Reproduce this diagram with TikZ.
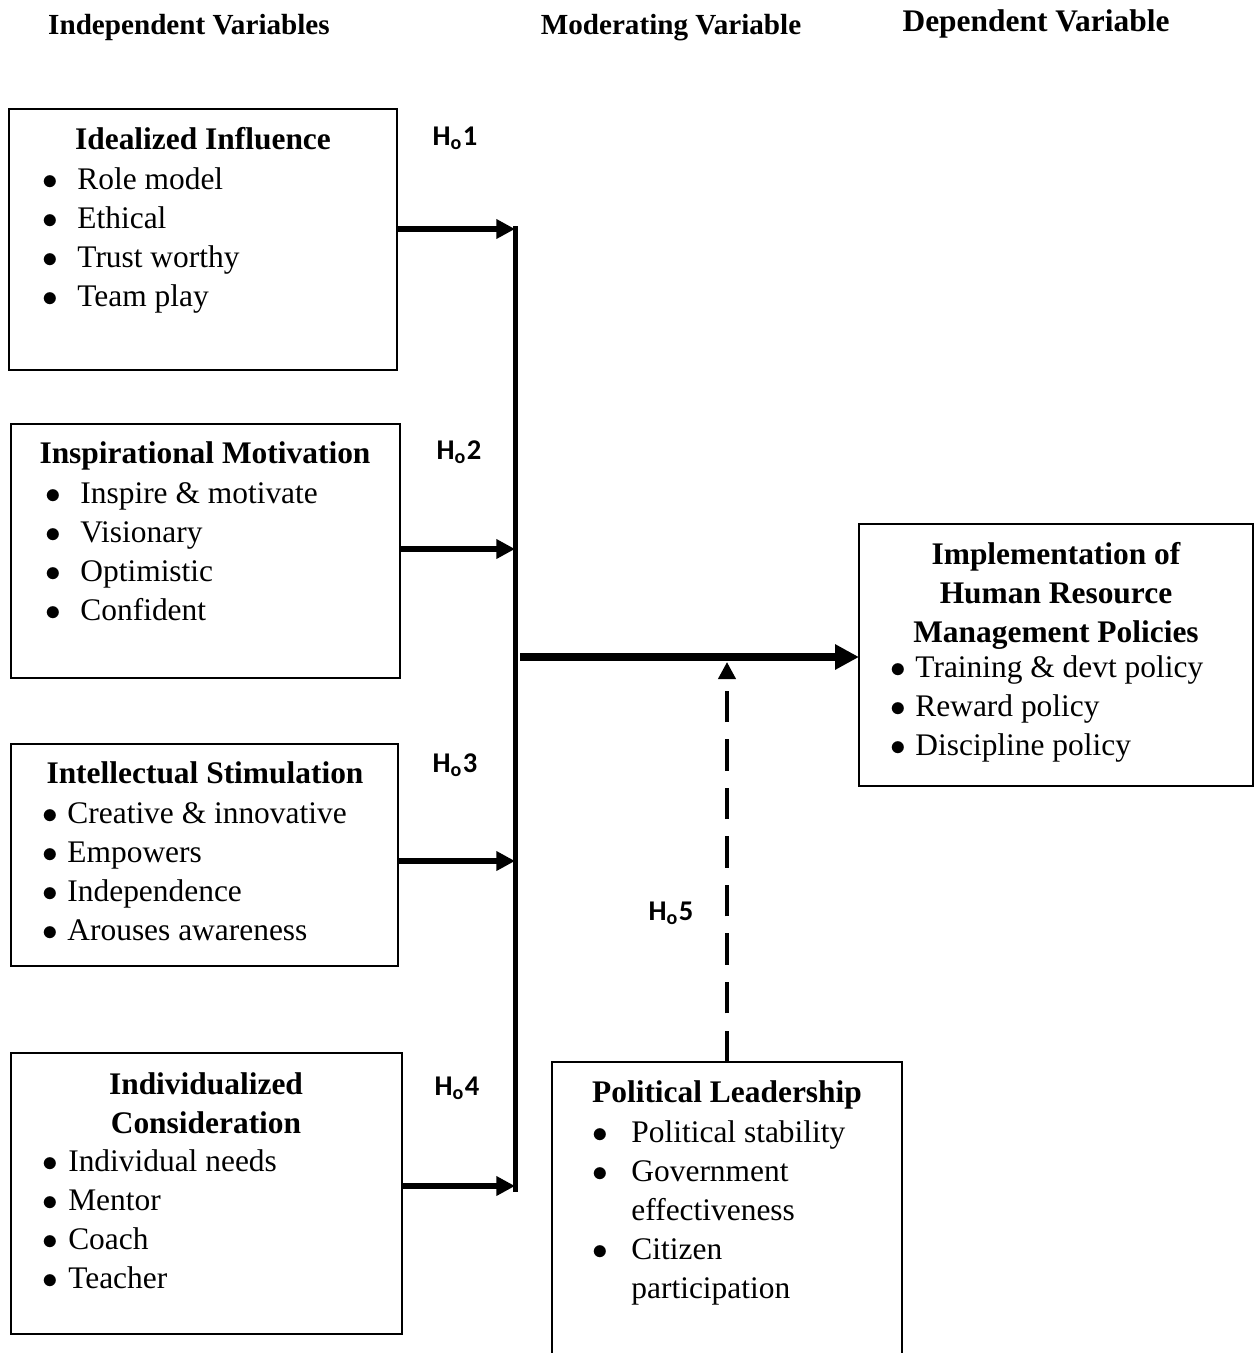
\documentclass[tikz,border=0pt]{standalone}
\usepackage{fontspec}
\setmainfont{Liberation Serif}
\newfontfamily\hypfont{Carlito}
\usetikzlibrary{arrows.meta, positioning}

\newcommand{\itm}[2]{\makebox[#1][l]{$\bullet$}#2}

\begin{document}
\begin{tikzpicture}[
  x=0.35pt, y=-0.35pt,
  box/.style={rectangle, draw, line width=0.7pt, inner sep=0pt, outer sep=0pt},
  title/.style={font=\fontsize{11}{13.65}\selectfont\bfseries, align=center, inner sep=0pt},
  items/.style={font=\fontsize{11}{13.65}\selectfont, align=left, inner sep=0pt, anchor=north west},
  header/.style={font=\fontsize{10.2}{12}\selectfont\bfseries, inner sep=0pt, anchor=base},
  hyp/.style={font=\hypfont\fontsize{10}{12}\selectfont\bfseries, inner sep=0pt},
  link/.style={line width=2.1pt, -{Triangle[length=6.5pt, width=6.5pt]}},
]
  \useasboundingbox (0,0) rectangle (1257,1353);

  % column headers
  \node[header] (hind) at (189,34) {Independent Variables};
  \node[header] (hmod) at (671,34) {Moderating Variable};
  \node[header, font=\fontsize{11}{13}\selectfont\bfseries] (hdep) at (1036,31) {Dependent Variable};

  % independent variables
  \node[box, minimum width=135.8pt, minimum height=91.35pt] (ii) at (203,239.5) {};
  \node[title, anchor=base] (iiTitle) at (203,149) {Idealized Influence};
  \node[items] (iiList) at (42,167) {\itm{12.2pt}{Role model}\\\itm{12.2pt}{Ethical}\\\itm{12.2pt}{Trust worthy}\\\itm{12.2pt}{Team play}};

  \node[box, minimum width=136.15pt, minimum height=88.9pt] (im) at (205.5,551) {};
  \node[title, anchor=base] (imTitle) at (205,463) {Inspirational Motivation};
  \node[items] (imList) at (45,482) {\itm{12.2pt}{Inspire \& motivate}\\\itm{12.2pt}{Visionary}\\\itm{12.2pt}{Optimistic}\\\itm{12.2pt}{Confident}};

  \node[box, minimum width=135.45pt, minimum height=77.7pt] (is) at (204.5,855) {};
  \node[title, anchor=base] (isTitle) at (205,783) {Intellectual Stimulation};
  \node[items] (isList) at (42,802) {\itm{8.7pt}{Creative \& innovative}\\\itm{8.7pt}{Empowers}\\\itm{8.7pt}{Independence}\\\itm{8.7pt}{Arouses awareness}};

  \node[box, minimum width=136.85pt, minimum height=98.35pt] (ic) at (206.5,1193.5) {};
  \node[title, anchor=north] (icTitle) at (206,1072) {Individualized\\Consideration};
  \node[items] (icList) at (42,1149) {\itm{9pt}{Individual needs}\\\itm{9pt}{Mentor}\\\itm{9pt}{Coach}\\\itm{9pt}{Teacher}};

  % dependent variable
  \node[box, minimum width=137.9pt, minimum height=91.7pt] (dep) at (1056,655) {};
  \node[title, anchor=north] (depTitle) at (1056,542) {Implementation of\\Human Resource\\Management Policies};
  \node[items] (depList) at (890,655) {\itm{8.7pt}{Training \& devt policy}\\\itm{8.7pt}{Reward policy}\\\itm{8.7pt}{Discipline policy}};

  % moderating variable
  \node[box, minimum width=122.5pt, minimum height=111.3pt] (pol) at (727,1221) {};
  \node[title, anchor=base] (polTitle) at (727,1102) {Political Leadership};
  \node[items] (polList) at (592,1120) {\itm{13.6pt}{Political stability}\\\itm{13.6pt}{Government}\\\hspace*{13.6pt}effectiveness\\\itm{13.6pt}{Citizen}\\\hspace*{13.6pt}participation};

  % hypotheses
  \node[hyp] (h1) at (455,138) {H\textsubscript{o}1};
  \node[hyp] (h2) at (459,452) {H\textsubscript{o}2};
  \node[hyp] (h3) at (455,765) {H\textsubscript{o}3};
  \node[hyp] (h4) at (457,1088) {H\textsubscript{o}4};
  \node[hyp] (h5) at (671,913) {H\textsubscript{o}5};

  % joints on the spine
  \coordinate (s1) at (515,229);
  \coordinate (s2) at (515,549);
  \coordinate (s3) at (515,861);
  \coordinate (s4) at (515,1186);
  \coordinate (sm) at (520,657);
  \coordinate (mod) at (727,662);

  \draw[line width=1.75pt] ([yshift=1pt]s1) -- ([yshift=-2pt]s4);
  \draw[link] (ii.east |- s1) -- (s1);
  \draw[link] (im.east |- s2) -- (s2);
  \draw[link] (is.east |- s3) -- (s3);
  \draw[link] (ic.east |- s4) -- (s4);
  \draw[line width=2.8pt, -{Triangle[length=8.4pt, width=8.4pt]}] (sm) -- (sm -| dep.west);
  \draw[line width=1.4pt, dash pattern=on 11pt off 6pt, -{Triangle[length=6pt, width=6pt]}] (pol.north) -- (mod);
\end{tikzpicture}
\end{document}
